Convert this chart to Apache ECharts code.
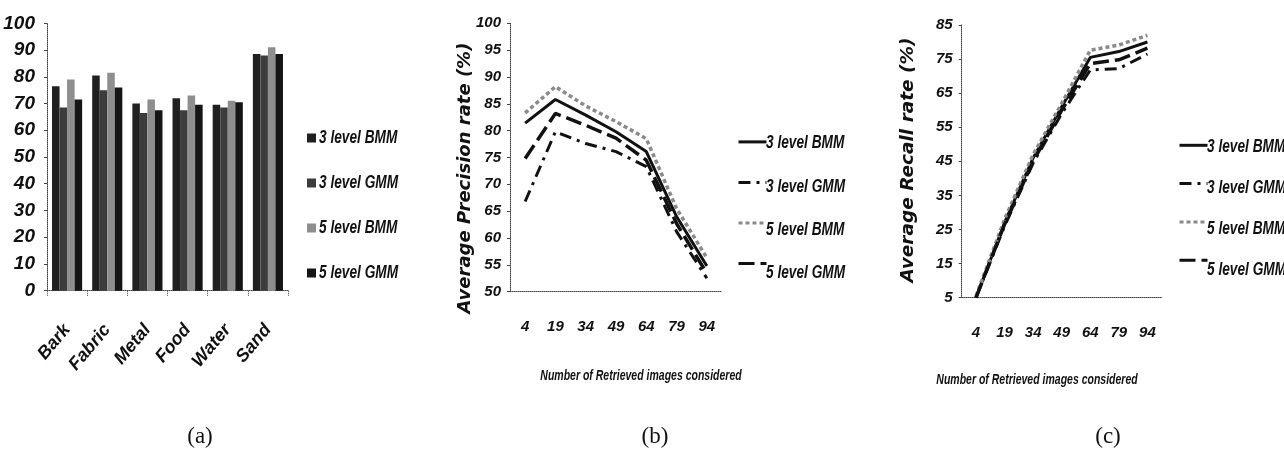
<!DOCTYPE html>
<html>
<head>
<meta charset="utf-8">
<script src="https://cdn.jsdelivr.net/npm/echarts@6/dist/echarts.min.js"></script>
<style>
  html, body { margin: 0; padding: 0; background: #fff; }
  #wrap { position: relative; width: 1284px; height: 461px; overflow: hidden; }
  .panel { position: absolute; top: 0; height: 461px; }
  #pa { left: 0; width: 430px; }
  #pb { left: 430px; width: 440px; }
  #pc { left: 870px; width: 414px; }
</style>
</head>
<body>
<div id="wrap">
  <div id="pa" class="panel"></div>
  <div id="pb" class="panel"></div>
  <div id="pc" class="panel"></div>
</div>
<script>
// Texture classes and per-model retrieval accuracy (%)
const textureCats = ['Bark', 'Fabric', 'Metal', 'Food', 'Water', 'Sand'];
const bmm3Acc = [76.5, 80.5, 70, 72, 69.5, 88.5];
const gmm3Acc = [68.5, 75, 66.5, 67.5, 68.5, 88];
const bmm5Acc = [79, 81.5, 71.5, 73, 71, 91];
const gmm5Acc = [71.5, 76, 67.5, 69.5, 70.5, 88.5];

// Number of retrieved images
const retrieved = ['4', '19', '34', '49', '64', '79', '94'];

// Average precision rate (%)
const bmm3Prec = [81.4, 85.8, 82.9, 79.8, 76.1, 64.0, 54.8];
const gmm3Prec = [66.8, 79.8, 77.6, 76.1, 73.3, 61.2, 52.5];
const bmm5Prec = [83.3, 88.2, 84.6, 81.7, 78.5, 65.5, 56.3];
const gmm5Prec = [74.8, 83.2, 81.0, 78.6, 74.5, 62.7, 53.4];

// Average recall rate (%)
const bmm3Rec = [5, 27, 46, 61, 75.5, 77.2, 80];
const gmm3Rec = [5, 26, 44.5, 59, 71.8, 72.2, 76.5];
const bmm5Rec = [5.5, 28, 47, 62, 77.6, 79.1, 82];
const gmm5Rec = [5, 26.5, 45, 60, 73.7, 74.8, 78.2];

// Axis tick values
const accTicks = [0, 10, 20, 30, 40, 50, 60, 70, 80, 90, 100];
const precTicks = [50, 55, 60, 65, 70, 75, 80, 85, 90, 95, 100];
const recTicks = [5, 15, 25, 35, 45, 55, 65, 75, 85];

const seriesNames = ['3 level BMM', '3 level GMM', '5 level BMM', '5 level GMM'];
const panelTags = ['(a)', '(b)', '(c)'];
const xTitle = 'Number of Retrieved images considered';
const precTitle = 'Average Precision rate (%)';
const recTitle = 'Average Recall rate (%)';

const SANS = "'Liberation Sans', Arial, sans-serif";
const WIDE = "'DejaVu Sans', Verdana, sans-serif";
const SERIF = "'Liberation Serif', 'DejaVu Serif', serif";
const BI = { fontFamily: SANS, fontWeight: 'bold', fontStyle: 'italic', color: '#111' };

const barColors = ['#202020', '#3c3c3c', '#8e8e8e', '#151515'];

// Line looks: solid, dash-dot, grey short dash, long dash
const lineLooks = [
  { color: '#111', width: 3, type: 'solid' },
  { color: '#111', width: 3, type: [12, 6, 3, 6] },
  { color: '#8a8a8a', width: 3.5, type: [4, 3] },
  { color: '#111', width: 3.5, type: [16, 6] }
];

const dottedAxis = { show: true, lineStyle: { color: '#444', width: 1, type: 'dotted' } };

function tagGraphic(text, cx) {
  return {
    type: 'text', x: cx, y: 437,
    style: { text: text, font: '23px ' + SERIF, fill: '#111', align: 'center', verticalAlign: 'middle' }
  };
}

// Narrow, bold-italic legend captions placed beside the legend symbols
function legendCaptions(x, y0, step) {
  return seriesNames.map((name, i) => ({
    type: 'text', x: x, y: y0 + i * step, scaleX: 0.76,
    style: { text: name, font: 'italic bold 18px ' + SANS, fill: '#111', align: 'left', verticalAlign: 'middle' }
  }));
}

function legendBox(left, top, gap, w, h, icon) {
  const lg = {
    orient: 'vertical', left: left, top: top, itemGap: gap,
    itemWidth: w, itemHeight: h, padding: 0,
    formatter: () => '',
    textStyle: { fontSize: 8, lineHeight: h, padding: 0 },
    data: seriesNames
  };
  if (icon) lg.icon = icon;
  else {
    lg.itemStyle = { opacity: 0 };
    lg.lineStyle = { width: 3 };
  }
  return lg;
}

// ---------- (a) grouped bars ----------
const chartA = echarts.init(document.getElementById('pa'), null, { renderer: 'canvas' });
chartA.setOption({
  animation: false,
  grid: { left: 47, top: 23.3, width: 241, height: 267.4 },
  legend: legendBox(307, 133.5, 36, 9, 9, 'rect'),
  xAxis: {
    type: 'category', data: textureCats,
    axisLine: dottedAxis,
    axisTick: { show: true, length: 6, lineStyle: { color: '#444', type: 'dotted' } },
    axisLabel: Object.assign({ rotate: 50, margin: 36, fontSize: 18 }, BI)
  },
  yAxis: {
    type: 'value', min: 0, max: 100, interval: 10,
    splitLine: { show: false },
    axisLine: dottedAxis,
    axisTick: { show: true, length: 3, lineStyle: { color: '#444' } },
    axisLabel: Object.assign({ margin: 12, fontSize: 19, customValues: accTicks }, BI)
  },
  series: [bmm3Acc, gmm3Acc, bmm5Acc, gmm5Acc].map((vals, i) => ({
    type: 'bar', name: seriesNames[i], data: vals,
    barGap: '0%', barCategoryGap: '25%',
    itemStyle: { color: barColors[i] }
  })),
  graphic: legendCaptions(319, 138, 45).concat([tagGraphic(panelTags[0], 200)])
});

// ---------- shared builder for the two line panels ----------
function linePanel(el, cfg) {
  const chart = echarts.init(document.getElementById(el), null, { renderer: 'canvas' });
  chart.setOption({
    animation: false,
    grid: cfg.grid,
    legend: legendBox(cfg.legendLeft, cfg.legendTop, cfg.legendStep - 14, 28, 14),
    xAxis: {
      type: 'category', data: retrieved, boundaryGap: true,
      axisLine: dottedAxis,
      axisTick: { show: false },
      axisLabel: Object.assign({ margin: 28, fontSize: 15 }, BI)
    },
    yAxis: {
      type: 'value', min: cfg.min, max: cfg.max,
      splitLine: { show: false },
      axisLine: dottedAxis,
      axisTick: { show: true, length: 3, customValues: cfg.ticks, lineStyle: { color: '#444' } },
      axisLabel: Object.assign({ margin: 9, fontSize: 15, customValues: cfg.ticks }, BI)
    },
    series: cfg.values.map((vals, i) => ({
      type: 'line', name: seriesNames[i], data: vals,
      symbol: 'none', lineStyle: lineLooks[i], itemStyle: { color: lineLooks[i].color }
    })),
    graphic: [
      {
        type: 'text', x: cfg.yTitleX, y: cfg.yTitleY, rotation: Math.PI / 2,
        style: { text: cfg.yTitle, font: 'italic bold ' + cfg.yTitleSize + 'px ' + WIDE, fill: '#111', align: 'center', verticalAlign: 'middle' }
      },
      {
        type: 'text', x: cfg.xTitleX, y: cfg.xTitleY, scaleX: 0.7,
        style: { text: xTitle, font: 'italic bold 15px ' + SANS, fill: '#111', align: 'center', verticalAlign: 'middle' }
      },
      tagGraphic(cfg.tag, cfg.tagX)
    ].concat(legendCaptions(cfg.legendLeft + 29, cfg.legendTop + 7, cfg.legendStep))
  });
  return chart;
}

// ---------- (b) precision ----------
linePanel('pb', {
  grid: { left: 80, top: 23.3, width: 212, height: 268.4 },
  min: 50, max: 100, ticks: precTicks,
  values: [bmm3Prec, gmm3Prec, bmm5Prec, gmm5Prec],
  legendLeft: 307, legendTop: 136.3, legendStep: 43.3,
  yTitle: precTitle, yTitleSize: 18, yTitleX: 35, yTitleY: 178,
  xTitleX: 211, xTitleY: 376,
  tag: panelTags[1], tagX: 225
});

// ---------- (c) recall ----------
linePanel('pc', {
  grid: { left: 91.7, top: 25, width: 200, height: 272.7 },
  min: 5, max: 85, ticks: recTicks,
  values: [bmm3Rec, gmm3Rec, bmm5Rec, gmm5Rec],
  legendLeft: 308, legendTop: 139.7, legendStep: 41.1,
  yTitle: recTitle, yTitleSize: 18.5, yTitleX: 38, yTitleY: 160,
  xTitleX: 167, xTitleY: 380,
  tag: panelTags[2], tagX: 238
});
</script>
</body>
</html>
